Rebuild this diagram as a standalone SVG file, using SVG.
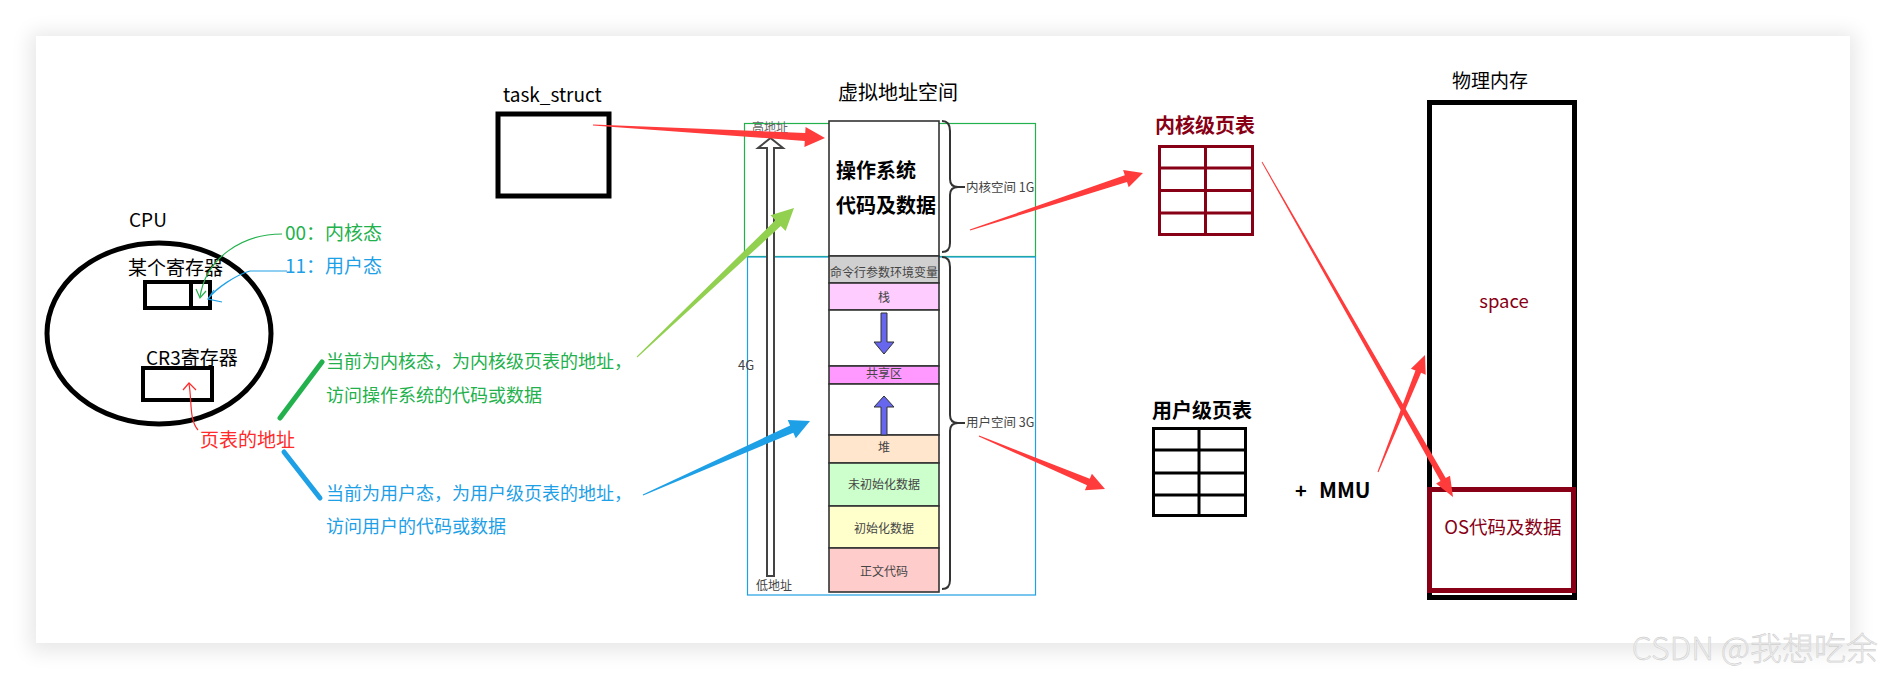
<svg xmlns="http://www.w3.org/2000/svg" width="1886" height="681" viewBox="0 0 1886 681">
<style>
text{font-family:"Noto Sans CJK SC","Noto Sans",sans-serif;}
.blk{fill:#000;}
.lbl{font-size:19px;fill:#000;}
.g{fill:#22b14c;font-size:18px;}
.b{fill:#1ea0e6;font-size:18px;}
.row{font-size:12px;fill:#444;text-anchor:middle;}
.side{font-size:12.5px;fill:#444;}
.box{fill:#fff;stroke:#000;stroke-width:5;}
.col{stroke:#333;stroke-width:1.6;}
.kt{fill:#fff;stroke:#880015;stroke-width:3;}
.ut{fill:#fff;stroke:#000;stroke-width:3;}
.red{fill:#ff3b3b;}
.thin{fill:none;stroke-width:1.2;}
</style>
<defs>
<filter id="sh" x="-5%" y="-10%" width="110%" height="120%"><feGaussianBlur stdDeviation="10"/></filter>
</defs>
<rect x="0" y="0" width="1886" height="681" fill="#fff"/>
<rect x="30" y="32" width="1826" height="620" fill="#000" opacity="0.09" filter="url(#sh)"/>
<rect x="36" y="36" width="1814" height="607" fill="#fff"/>

<g id="cpu">
<text x="129" y="227" class="lbl" font-size="18">CPU</text>
<ellipse cx="159" cy="333.5" rx="112" ry="90.5" fill="none" stroke="#000" stroke-width="5"/>
<text x="128" y="275" class="lbl">某个寄存器</text>
<rect x="145" y="282" width="65" height="26" fill="#fff" stroke="#000" stroke-width="4"/>
<line x1="191" y1="282" x2="191" y2="308" stroke="#000" stroke-width="4"/>
<text x="146" y="365" class="lbl">CR3寄存器</text>
<rect x="143" y="368" width="69" height="32" fill="#fff" stroke="#000" stroke-width="4"/>
</g>
<g id="mode-labels">
<text x="285" y="240" font-size="19" fill="#22b14c">00：内核态</text>
<text x="285" y="273" font-size="19" fill="#1ea0e6">11：用户态</text>
<text x="200" y="447" font-size="19" fill="#ff2a2a">页表的地址</text>
</g>
<g id="notes">
<text x="326" y="368" class="g">当前为内核态，为内核级页表的地址，</text>
<text x="326" y="402" class="g">访问操作系统的代码或数据</text>
<text x="326" y="500" class="b">当前为用户态，为用户级页表的地址，</text>
<text x="326" y="533" class="b">访问用户的代码或数据</text>
</g>
<g id="task_struct">
<text x="503" y="102" class="lbl">task_struct</text>
<rect x="498" y="114" width="111" height="82" class="box" stroke-width="4.5"/>
</g>
<g id="vspace">
<text x="898" y="100" font-size="20" text-anchor="middle">虚拟地址空间</text>
<rect x="744.5" y="123.5" width="291" height="133" fill="none" stroke="#22b14c" stroke-width="1.2"/>
<rect x="747.5" y="257" width="288" height="338" fill="none" stroke="#1ea0e6" stroke-width="1.2"/>
<text x="752" y="132" font-size="12" fill="#666">高地址</text>
<polygon points="767,576 774,576 774,148 783,148 770.5,138 758,148 767,148" fill="#fff" stroke="#444" stroke-width="2" stroke-linejoin="miter"/>
<text x="738" y="370" font-size="13" fill="#444">4G</text>
<text x="756" y="590" font-size="12" fill="#444">低地址</text>
<rect x="829" y="121" width="110" height="135" fill="#fff" class="col"/>
<rect x="829" y="256" width="110" height="27" fill="#d0d0d0" class="col"/>
<rect x="829" y="283" width="110" height="27" fill="#ffccff" class="col"/>
<rect x="829" y="310" width="110" height="56" fill="#fff" class="col"/>
<rect x="829" y="366" width="110" height="18" fill="#ff99ff" class="col"/>
<rect x="829" y="384" width="110" height="51" fill="#fff" class="col"/>
<rect x="829" y="435" width="110" height="28" fill="#ffe6cc" class="col"/>
<rect x="829" y="463" width="110" height="43" fill="#ccffcc" class="col"/>
<rect x="829" y="506" width="110" height="42" fill="#ffffcc" class="col"/>
<rect x="829" y="548" width="110" height="44" fill="#ffcccc" class="col"/>
<text x="836" y="178" font-size="20" font-weight="bold">操作系统</text>
<text x="836" y="213" font-size="20" font-weight="bold">代码及数据</text>
<text x="884" y="277" class="row">命令行参数环境变量</text>
<text x="884" y="302" class="row">栈</text>
<text x="884" y="378" class="row">共享区</text>
<text x="884" y="452" class="row">堆</text>
<text x="884" y="489" class="row">未初始化数据</text>
<text x="884" y="533" class="row">初始化数据</text>
<text x="884" y="576" class="row">正文代码</text>
<polygon points="881,313 887,313 887,342 894,342 884,354 874,342 881,342" fill="#6666ee" stroke="#333" stroke-width="1"/>
<polygon points="881,435 887,435 887,407 894,407 884,396 874,407 881,407" fill="#6666ee" stroke="#333" stroke-width="1"/>
<path d="M942 121 Q950 121 950 131 L950 179 Q950 187 958 187 L965 187 M958 187 Q950 187 950 195 L950 243 Q950 252 942 252" fill="none" stroke="#333" stroke-width="2"/>
<path d="M942 257 Q950 257 950 267 L950 415 Q950 423 958 423 L965 423 M958 423 Q950 423 950 431 L950 580 Q950 589 942 589" fill="none" stroke="#333" stroke-width="2"/>
<text x="966" y="192" class="side">内核空间 1G</text>
<text x="966" y="427" class="side">用户空间 3G</text>
</g>
<g id="kernel-pt">
<text x="1155" y="133" font-size="20" font-weight="bold" fill="#880015">内核级页表</text>
<rect x="1159.5" y="146.5" width="93" height="88" class="kt"/>
<line x1="1159.5" y1="168" x2="1252.5" y2="168" stroke="#880015" stroke-width="3"/>
<line x1="1159.5" y1="190.5" x2="1252.5" y2="190.5" stroke="#880015" stroke-width="3"/>
<line x1="1159.5" y1="213" x2="1252.5" y2="213" stroke="#880015" stroke-width="3"/>
<line x1="1205.5" y1="146.5" x2="1205.5" y2="234.5" stroke="#880015" stroke-width="3"/>
</g>
<g id="user-pt">
<text x="1152" y="418" font-size="20" font-weight="bold">用户级页表</text>
<rect x="1153.5" y="428.5" width="92" height="87" class="ut"/>
<line x1="1153.5" y1="450" x2="1245.5" y2="450" stroke="#000" stroke-width="3"/>
<line x1="1153.5" y1="473" x2="1245.5" y2="473" stroke="#000" stroke-width="3"/>
<line x1="1153.5" y1="495" x2="1245.5" y2="495" stroke="#000" stroke-width="3"/>
<line x1="1199" y1="428.5" x2="1199" y2="515.5" stroke="#000" stroke-width="3"/>
</g>
<g id="mmu">
<text x="1295" y="498" font-size="20" font-weight="bold">+</text>
<text x="1319" y="498" font-size="21" font-weight="bold">MMU</text>
</g>
<g id="phys">
<text x="1452" y="88" class="lbl">物理内存</text>
<rect x="1429.5" y="102.5" width="145" height="495" class="box"/>
<text x="1504" y="308" font-size="18.5" fill="#880015" text-anchor="middle">space</text>
<rect x="1429.5" y="489.5" width="144" height="101" fill="#fff" stroke="#880015" stroke-width="5"/>
<text x="1503" y="534" font-size="18.5" fill="#880015" text-anchor="middle">OS代码及数据</text>
</g>
<g id="connectors">
<path d="M282 234 C242 234 206 258 200 297" class="thin" stroke="#22b14c"/>
<path d="M196 289 L200 298 L206 291" class="thin" stroke="#22b14c"/>
<path d="M287 271 L250 271 C236 275 216 288 208 299" class="thin" stroke="#1ea0e6"/>
<path d="M214 290 L208 299 L222 302" class="thin" stroke="#1ea0e6"/>
<path d="M198 430 C189 420 192 400 189 384" class="thin" stroke="#ff2a2a"/>
<path d="M183 390 L189 383 L196 390" class="thin" stroke="#ff2a2a"/>
<line x1="280" y1="418" x2="322" y2="362" stroke="#22b14c" stroke-width="5" stroke-linecap="round"/>
<line x1="284" y1="452" x2="320" y2="498" stroke="#1ea0e6" stroke-width="5" stroke-linecap="round"/>
<polygon class="red" points="593,125.5 804.8,140.9 804.4,146.9 825,138 805.6,126.9 805.2,132.9 593,124.5"/>
<polygon fill="#92d050" points="637.3,357.4 780.8,226.1 785.6,231.1 794,208 770.5,215.2 775.3,220.3 636.7,356.6"/>
<polygon fill="#1ea0e6" points="643.2,495.5 793.3,432.8 795.8,438.2 810,421 787.7,420 790.1,425.4 642.8,494.5"/>
<polygon class="red" points="970.2,230.5 1127,182 1128.7,187.2 1143,173 1123.1,170.1 1124.8,175.3 969.8,229.5"/>
<polygon class="red" points="978.8,436.5 1087,485.3 1084.9,490.3 1105,489 1091.9,473.7 1089.8,478.8 979.2,435.5"/>
<polygon class="red" points="1261.6,162.3 1440.5,481.1 1436.1,483.6 1453,497 1450,475.7 1445.7,478.1 1262.4,161.8"/>
<polygon class="red" points="1378.5,472.2 1421.1,372.8 1425.7,374.7 1425,355 1410.9,368.7 1415.5,370.6 1377.5,471.8"/>
</g>
<text x="1878" y="660" font-size="32" font-weight="300" text-anchor="end" fill="#eeeeee" stroke="#c4c4c4" stroke-width="0.4">CSDN @我想吃余</text>
</svg>
